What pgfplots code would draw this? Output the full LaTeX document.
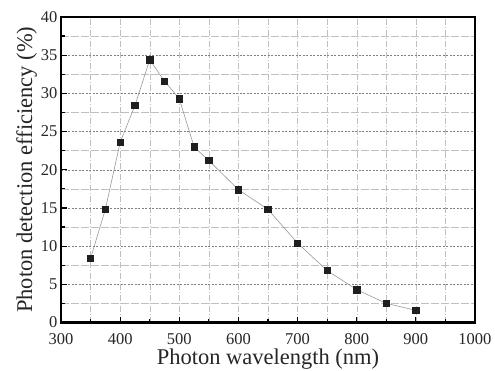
\documentclass[border=0pt]{standalone}
\usepackage{pgfplots}
\pgfplotsset{compat=1.18}
\usepackage{fontspec}
\setmainfont{Liberation Serif}
\begin{document}
\begin{tikzpicture}
\useasboundingbox (0,0) rectangle (495pt,370pt);
\begin{axis}[
  at={(61pt,47.5pt)}, anchor=south west,
  scale only axis, width=414pt, height=305.5pt,
  xmin=300, xmax=1000, ymin=0, ymax=40,
  xtick={300,400,...,1000}, ytick={0,5,...,40},
  minor xtick={350,450,...,950}, minor ytick={2.5,7.5,...,37.5},
  tick align=inside, xtick pos=bottom, ytick pos=left,
  major tick length=6pt, minor tick length=4pt,
  every tick/.style={black, line width=1.2pt},
  axis line style={line width=2.4pt, black},
  /pgf/number format/assume math mode=true,
  /pgf/number format/1000 sep={},
  ticklabel style={font=\fontsize{16.5}{16.5}\selectfont, text=black!85},
  xticklabel style={anchor=base, yshift=-21.5pt},
  xlabel={Photon wavelength (nm)}, ylabel={Photon detection efficiency (\%)},
  label style={font=\fontsize{22.5}{22.5}\selectfont, text=black!85},
  xlabel style={at={(axis description cs:0.5,-0.1375)}, anchor=base},
  ylabel style={at={(axis description cs:-0.070,0.5)}, anchor=base},
  grid=both,
  x grid style={black!25, dash pattern=on 6pt off 2pt on 1pt off 2pt},
  minor x grid style={black!25, dash pattern=on 6pt off 2pt on 1pt off 2pt},
  major y grid style={black!50, dash pattern=on 2pt off 1.5pt},
  minor y grid style={black!25, dash pattern=on 8pt off 2pt},
]
\addplot[black!40, line width=0.6pt, mark=square*, mark size=3.2pt, mark options={fill=black!88, draw=black!88}]
coordinates {
(350,8.4) (375,14.8) (400,23.6) (425,28.4) (450,34.4) (475,31.6) (500,29.3)
(525,23.0) (550,21.2) (600,17.4) (650,14.8) (700,10.4) (750,6.8) (800,4.3)
(850,2.5) (900,1.6)
};
\end{axis}
\end{tikzpicture}
\end{document}
